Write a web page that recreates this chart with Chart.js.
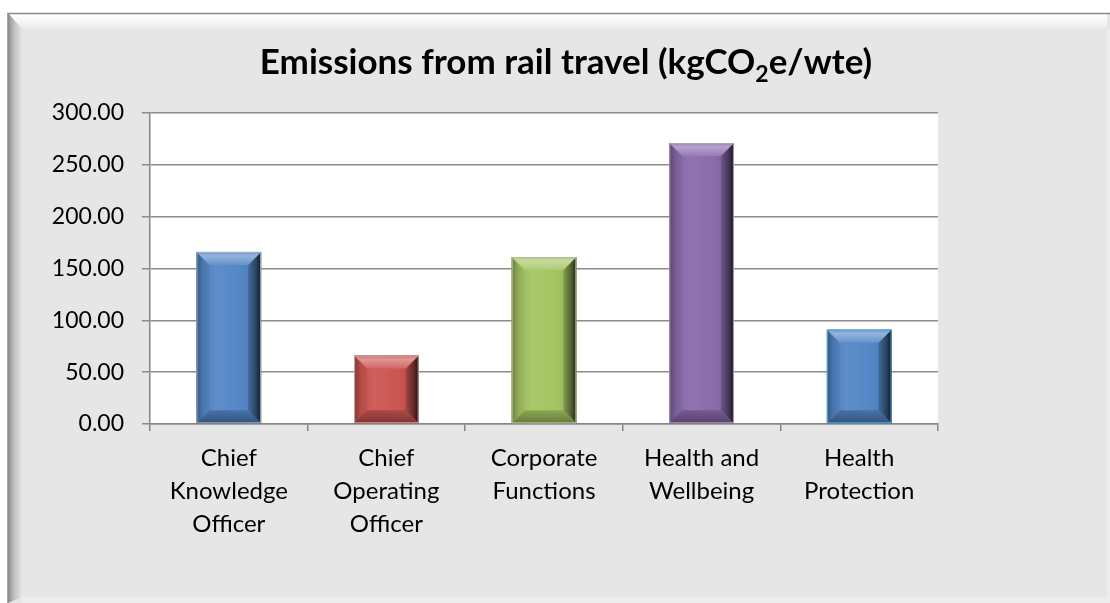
<!DOCTYPE html>
<html>
<head>
<meta charset="utf-8">
<title>Emissions from rail travel</title>
<script src="https://cdn.jsdelivr.net/npm/chart.js@4"></script>
<style>
  html, body { margin: 0; padding: 0; background: #fff; }
  #wrap { width: 1110px; height: 603px; }
</style>
</head>
<body>
<div id="wrap"><canvas id="railChart" width="1110" height="603"></canvas></div>
<script>
// categories split into the lines they wrap onto under the axis
const categories = [
  ['Chief', 'Knowledge', 'Officer'],
  ['Chief', 'Operating', 'Officer'],
  ['Corporate', 'Functions'],
  ['Health and', 'Wellbeing'],
  ['Health', 'Protection']
];
const emissions = [166, 66, 161, 271, 91];
const barColors = ['#5486c6', '#cb5551', '#a4c462', '#8a6bab', '#5486c6'];
const barEdges = ['#a3adba', '#c2a9a8', '#b2bba0', '#aaa2b5', '#4bacc6'];
const yMin = 0, yMax = 300, yStep = 50;
const titleMain = 'Emissions from rail travel (kgCO';
const titleSub = '2';
const titleEnd = 'e/wte)';

function mix(hex, target, t) {
  const a = parseInt(hex.slice(1), 16), b = parseInt(target.slice(1), 16);
  const ch = s => [(s >> 16) & 255, (s >> 8) & 255, s & 255];
  const ca = ch(a), cb = ch(b);
  const r = ca.map((v, k) => Math.round(v + (cb[k] - v) * t));
  return 'rgb(' + r.join(',') + ')';
}

// grey panel with the bevelled top/left edge, white plot area
const framePlugin = {
  id: 'frame',
  beforeDraw(chart) {
    const ctx = chart.ctx, W = chart.width, H = chart.height;
    ctx.save();
    ctx.fillStyle = '#ffffff';
    ctx.fillRect(0, 0, W, H);
    ctx.fillStyle = '#e6e6e6';
    ctx.fillRect(8, 13, W - 8, H - 13);

    let g = ctx.createLinearGradient(0, 14, 0, 29);
    g.addColorStop(0, '#fefefe');
    g.addColorStop(0.6, '#f4f4f4');
    g.addColorStop(1, '#e9e9e9');
    ctx.fillStyle = g;
    ctx.beginPath();
    ctx.moveTo(8, 13); ctx.lineTo(W - 3, 13); ctx.lineTo(W - 3, 29); ctx.lineTo(22, 29);
    ctx.closePath(); ctx.fill();

    g = ctx.createLinearGradient(8, 0, 22, 0);
    g.addColorStop(0, '#8e8e8e');
    g.addColorStop(0.45, '#c2c2c2');
    g.addColorStop(1, '#e4e4e4');
    ctx.fillStyle = g;
    ctx.beginPath();
    ctx.moveTo(8, 13); ctx.lineTo(22, 29); ctx.lineTo(22, H - 6); ctx.lineTo(8, H);
    ctx.closePath(); ctx.fill();

    // right and bottom edges
    ctx.fillStyle = '#ededed';
    ctx.fillRect(W - 3, 29, 3, H - 29);
    ctx.fillRect(22, H - 6, W - 22, 6);

    ctx.strokeStyle = '#8a8a8a';
    ctx.lineWidth = 1.5;
    ctx.beginPath();
    ctx.moveTo(8, H); ctx.lineTo(8, 13.5); ctx.lineTo(W, 13.5);
    ctx.stroke();

    const a = chart.chartArea;
    ctx.fillStyle = '#ffffff';
    ctx.fillRect(a.left, a.top, a.right - a.left, a.bottom - a.top);
    ctx.restore();
  }
};

// bevelled look on each bar, drawn inside the bar element's own box
const bevelPlugin = {
  id: 'bevel',
  afterDatasetsDraw(chart) {
    const ctx = chart.ctx;
    chart.getDatasetMeta(0).data.forEach((bar, i) => {
      const p = bar.getProps(['x', 'y', 'base', 'width'], true);
      const L = p.x - p.width / 2, R = p.x + p.width / 2;
      const T = Math.min(p.y, p.base), B = Math.max(p.y, p.base);
      const b = Math.min(13, (B - T) / 2, (R - L) / 2);
      const c = barColors[i];
      ctx.save();

      let g = ctx.createLinearGradient(L, 0, R, 0);
      g.addColorStop(0, mix(c, '#000000', 0.12));
      g.addColorStop(0.3, mix(c, '#ffffff', 0.06));
      g.addColorStop(0.7, c);
      g.addColorStop(1, mix(c, '#000000', 0.15));
      ctx.fillStyle = g;
      ctx.fillRect(L, T, R - L, B - T);

      // left
      g = ctx.createLinearGradient(L, 0, L + b, 0);
      g.addColorStop(0, mix(c, '#000000', 0.35));
      g.addColorStop(0.5, mix(c, '#000000', 0.12));
      g.addColorStop(1, mix(c, '#000000', 0.04));
      ctx.fillStyle = g;
      ctx.beginPath();
      ctx.moveTo(L, T); ctx.lineTo(L + b, T + b); ctx.lineTo(L + b, B - b); ctx.lineTo(L, B);
      ctx.closePath(); ctx.fill();

      // right
      g = ctx.createLinearGradient(R - b, 0, R, 0);
      g.addColorStop(0, mix(c, '#000000', 0.2));
      g.addColorStop(0.6, mix(c, '#000000', 0.5));
      g.addColorStop(1, mix(c, '#000000', 0.8));
      ctx.fillStyle = g;
      ctx.beginPath();
      ctx.moveTo(R, T); ctx.lineTo(R - b, T + b); ctx.lineTo(R - b, B - b); ctx.lineTo(R, B);
      ctx.closePath(); ctx.fill();

      // top
      g = ctx.createLinearGradient(0, T, 0, T + b);
      g.addColorStop(0, mix(c, '#ffffff', 0.15));
      g.addColorStop(0.3, mix(c, '#ffffff', 0.38));
      g.addColorStop(1, mix(c, '#ffffff', 0.1));
      ctx.fillStyle = g;
      ctx.beginPath();
      ctx.moveTo(L, T); ctx.lineTo(R, T); ctx.lineTo(R - b, T + b); ctx.lineTo(L + b, T + b);
      ctx.closePath(); ctx.fill();

      // bottom
      g = ctx.createLinearGradient(0, B - b, 0, B);
      g.addColorStop(0, mix(c, '#000000', 0.15));
      g.addColorStop(1, mix(c, '#000000', 0.38));
      ctx.fillStyle = g;
      ctx.beginPath();
      ctx.moveTo(L, B); ctx.lineTo(R, B); ctx.lineTo(R - b, B - b); ctx.lineTo(L + b, B - b);
      ctx.closePath(); ctx.fill();

      ctx.strokeStyle = barEdges[i];
      ctx.lineWidth = 1;
      ctx.strokeRect(L + 0.5, T + 0.5, R - L - 1, B - T - 1);
      ctx.restore();
    });
  }
};

// title with the subscript 2 in CO2
const titlePlugin = {
  id: 'subTitle',
  afterDraw(chart) {
    const ctx = chart.ctx;
    const big = 'bold 35px Lato', small = 'bold 23px Lato';
    ctx.save();
    ctx.fillStyle = '#000000';
    ctx.textBaseline = 'alphabetic';
    ctx.textAlign = 'left';
    ctx.font = big;
    const w1 = ctx.measureText(titleMain).width;
    const w3 = ctx.measureText(titleEnd).width;
    ctx.font = small;
    const w2 = ctx.measureText(titleSub).width;
    let x = (22 + chart.width) / 2 - (w1 + w2 + w3) / 2;
    const y = 74;
    ctx.font = big;
    ctx.fillText(titleMain, x, y);
    x += w1;
    ctx.font = small;
    ctx.fillText(titleSub, x, y + 8);
    x += w2;
    ctx.font = big;
    ctx.fillText(titleEnd, x, y);
    ctx.restore();
  }
};

new Chart(document.getElementById('railChart'), {
  type: 'bar',
  data: {
    labels: categories,
    datasets: [{
      data: emissions,
      backgroundColor: barColors,
      borderWidth: 0,
      barPercentage: 0.41,
      categoryPercentage: 1
    }]
  },
  options: {
    responsive: false,
    animation: false,
    devicePixelRatio: 1,
    layout: { padding: { left: 22, top: 113, right: 172, bottom: 10 } },
    plugins: {
      legend: { display: false },
      tooltip: { enabled: false },
      title: { display: false }
    },
    scales: {
      x: {
        grid: { offset: true, drawOnChartArea: false, tickLength: 7, color: '#868686', lineWidth: 1.5 },
        border: { color: '#868686', width: 1.5 },
        ticks: {
          color: '#000000',
          font: { family: 'Lato', size: 24, lineHeight: 1.375 },
          padding: 11,
          maxRotation: 0,
          autoSkip: false
        },
        afterFit(scale) { scale.height = 169; }
      },
      y: {
        min: yMin,
        max: yMax,
        grid: { color: '#8c8c8c', lineWidth: 1.5, tickLength: 8 },
        border: { color: '#868686', width: 1.5 },
        ticks: {
          stepSize: yStep,
          color: '#000000',
          padding: 18,
          font: { family: 'Lato', size: 23 },
          callback: v => v.toFixed(2)
        },
        afterFit(scale) { scale.width = 128; }
      }
    }
  },
  plugins: [framePlugin, bevelPlugin, titlePlugin]
});
</script>
</body>
</html>
